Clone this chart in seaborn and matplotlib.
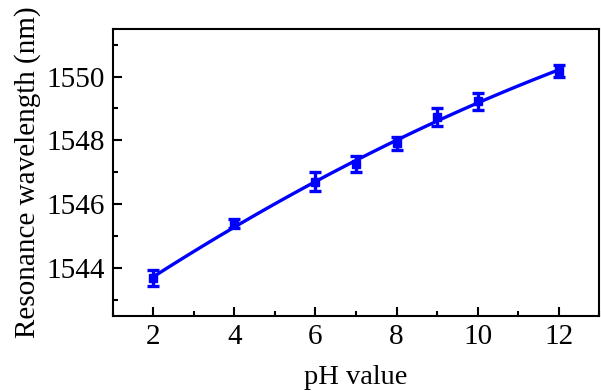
import matplotlib
matplotlib.use("Agg")
import matplotlib.pyplot as plt
import seaborn as sns
import pandas as pd
from matplotlib.ticker import MultipleLocator

ph = [2, 4, 6, 7, 8, 9, 10, 12]
wavelength = [1543.68, 1545.40, 1546.70, 1547.25, 1547.90, 1548.74, 1549.22, 1550.17]
err = [0.24, 0.14, 0.30, 0.25, 0.19, 0.28, 0.26, 0.18]

df = pd.DataFrame({"ph": ph, "wl": wavelength, "err": err})

sns.set_theme(style="ticks")
plt.rcParams["font.family"] = ["Liberation Serif", "DejaVu Serif"]
plt.rcParams["mathtext.fontset"] = "stix"

fig = plt.figure(figsize=(6.01, 3.91), dpi=100)
ax = fig.add_axes([0.188, 0.1926, 0.8087, 0.734])

blue = "#0000FF"
sns.regplot(data=df, x="ph", y="wl", order=2, ci=None, scatter=False,
            truncate=True, ax=ax, line_kws=dict(color=blue, lw=2.4))
ax.errorbar(df["ph"], df["wl"], yerr=df["err"], fmt="s", color=blue,
            ms=6, capsize=4.5, capthick=2.4, elinewidth=2.4, zorder=3)

ax.set_xlim(1, 13)
ax.set_ylim(1542.5, 1551.5)
ax.xaxis.set_major_locator(MultipleLocator(2))
ax.xaxis.set_minor_locator(MultipleLocator(1))
ax.yaxis.set_major_locator(MultipleLocator(2))
ax.yaxis.set_minor_locator(MultipleLocator(1))
ax.tick_params(which="both", direction="in", top=False, right=False, width=1.5,
               labelsize=21, colors="black")
ax.tick_params(which="major", length=6.5, pad=6)
ax.tick_params(which="minor", length=3.5)
for s in ax.spines.values():
    s.set_linewidth(1.5)
    s.set_color("black")
    s.set_visible(True)

ax.set_xlabel("pH value", fontsize=20.5, color="black", labelpad=11)
ax.set_ylabel("Resonance wavelength (nm)", fontsize=21, color="black", labelpad=4)

fig.savefig("out.png", dpi=100)
